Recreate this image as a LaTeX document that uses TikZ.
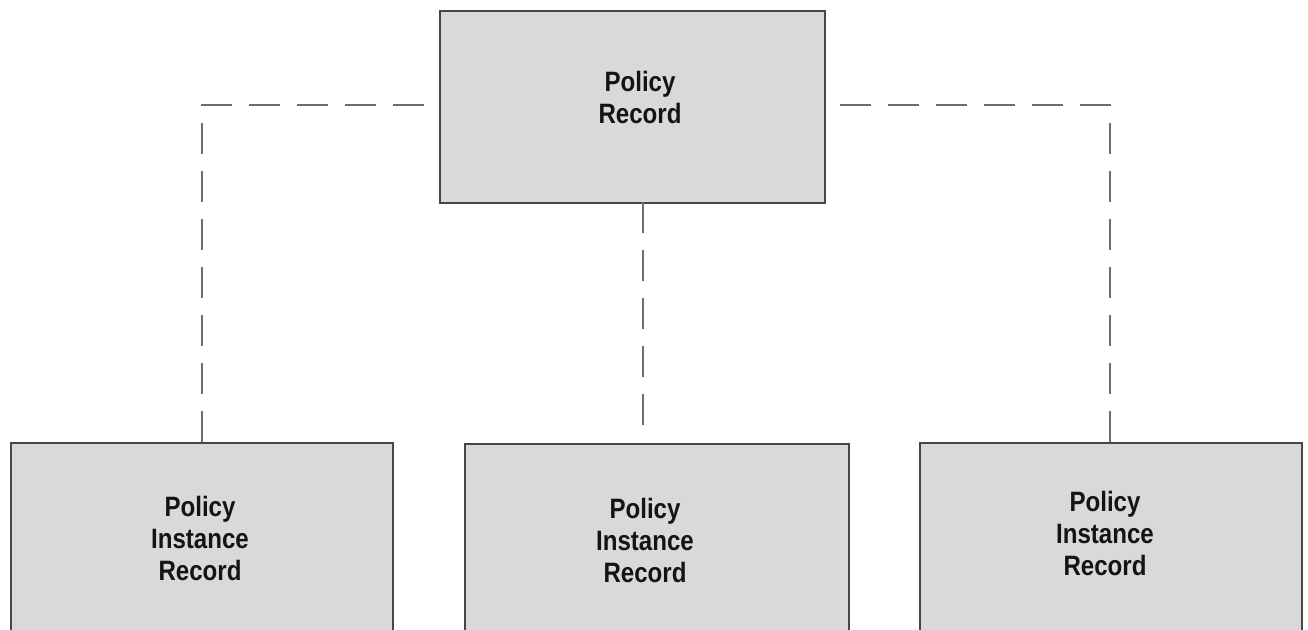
\documentclass[tikz,border=0pt]{standalone}
\usepackage{fontspec}
\setmainfont{Liberation Sans}[FakeStretch=0.86]
\begin{document}
\begin{tikzpicture}[x=0.75pt,y=-0.75pt,
  box/.style={draw=black!72,line width=1.6pt,fill=black!15,rectangle,inner sep=0pt,anchor=north west},
  txt/.style={align=center,text=black!92,font=\bfseries\fontsize{21}{24}\selectfont,inner sep=0pt},
  link/.style={draw=black!57,line width=2.2pt,dash pattern=on 23.25pt off 12.75pt}]
\clip (0,0) rectangle (1308,629);
% boxes
\node[box,minimum width=288.75pt,minimum height=144pt] (top) at (439,10) {};
\node[box,minimum width=286.5pt,minimum height=160pt] (bl) at (10,442) {};
\node[box,minimum width=288pt,minimum height=160pt] (bm) at (464,443) {};
\node[box,minimum width=286.5pt,minimum height=160pt] (br) at (919,442) {};
% texts
\node[txt] (ttop) at (640,97) {Policy\\Record};
\node[txt] (tbl) at (200,538) {Policy\\Instance\\Record};
\node[txt] (tbm) at (645,540) {Policy\\Instance\\Record};
\node[txt] (tbr) at (1105,533) {Policy\\Instance\\Record};
% connector ends
\coordinate (lstart) at (424,105);
\coordinate (rstart) at (840,105);
\coordinate (mend) at (643,425);
\draw[link] (lstart) -- (202,105) -- (202,442);
\draw[link] (rstart) -- (1110,105) -- (1110,442);
\draw[link] (643,202) -- (mend);
\end{tikzpicture}
\end{document}
